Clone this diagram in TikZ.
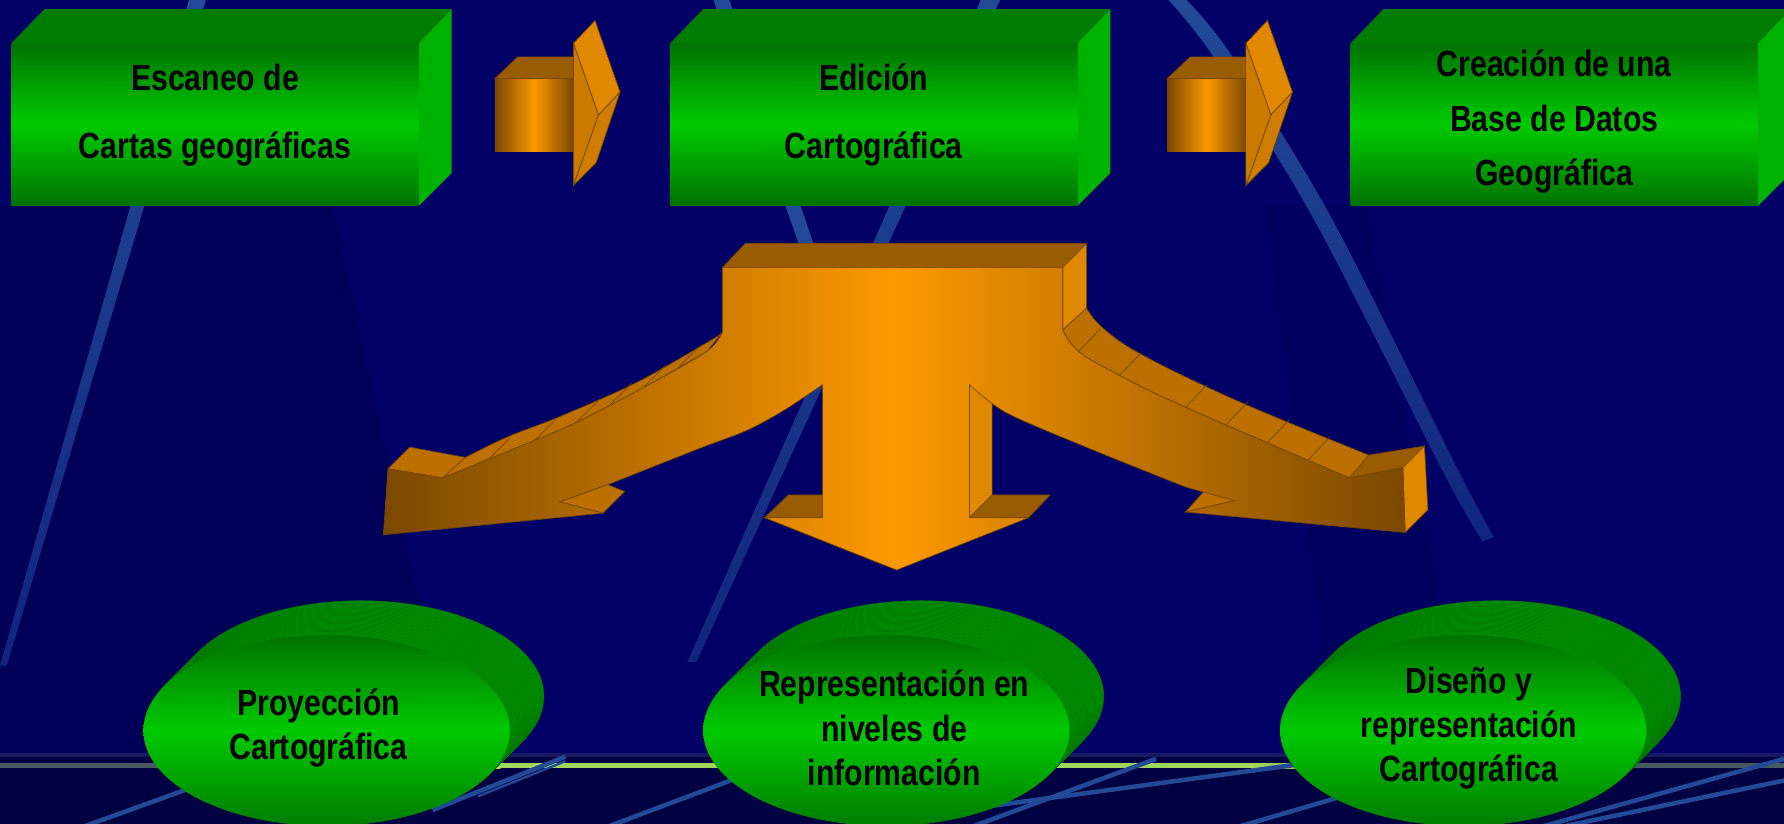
\documentclass[tikz,border=0pt]{standalone}
\usepackage{fontspec}
\newfontfamily\labelfont{Liberation Sans}[FakeStretch=0.83]

\definecolor{bgnavy}{RGB}{0,0,102}
\definecolor{bgband}{RGB}{0,0,66}
\definecolor{beamblue}{RGB}{34,74,150}
\definecolor{boxdark}{RGB}{0,114,0}
\definecolor{boxlight}{RGB}{0,202,0}
\definecolor{boxtop}{RGB}{0,124,0}
\definecolor{boxside}{RGB}{0,178,0}
\definecolor{arrdark}{RGB}{122,72,0}
\definecolor{arrbright}{RGB}{253,153,0}
\definecolor{arrtop}{RGB}{153,92,0}
\definecolor{arrside}{RGB}{224,136,0}
\definecolor{arrstrip}{RGB}{187,112,0}
\definecolor{arrline}{RGB}{120,70,0}
\definecolor{ovalwall}{RGB}{0,148,0}
\definecolor{ovalline}{RGB}{0,122,0}
\definecolor{hlgray}{RGB}{70,90,95}
\definecolor{hlgreen}{RGB}{160,215,90}

\begin{document}
\begin{tikzpicture}
[x=0.5pt, y=-0.5pt,
  boxfront/.style={top color=boxdark, bottom color=boxdark, middle color=boxlight},
  ovalfront/.style={top color=boxdark, bottom color=boxdark!90!boxlight, middle color=boxlight},
  ovalwallstyle/.style={fill=ovalwall, draw=ovalline, line width=0.25pt},
  facet/.style={draw=arrline, line width=0.3pt},
  arrfront/.style={left color=arrdark, right color=arrdark, middle color=arrbright},
  lightline/.style={beamblue, line width=2pt},
  lbl/.style={align=center, inner sep=0pt, text=black}]
\useasboundingbox (0,0) rectangle (1568,724);
\clip (0,0) rectangle (1568,724);

%% background
\fill[bgnavy] (0,0) rectangle (1568,724);
\fill[black, opacity=.12] (0,181) -- (292,181) -- (398,664) -- (0,664) -- cycle;
\fill[black, opacity=.08] (1112,181) -- (1200,181) -- (1290,664) -- (1175,664) -- cycle;
\fill[bgband] (0,664) rectangle (1568,724);
\fill[gray!40!bgnavy, opacity=.5] (0,662) rectangle (1568,665);
\fill[hlgray] (0,671) rectangle (140,675);
\shade[left color=hlgray, right color=hlgreen] (140,671) rectangle (440,675);
\fill[hlgreen] (440,671) rectangle (1100,675);
\shade[left color=hlgreen, right color=hlgray] (1100,671) rectangle (1300,675);
\fill[hlgray] (1300,671) rectangle (1568,675);

%% light beams
\shade[top color=beamblue, bottom color=beamblue!50!bgnavy] (166,0) -- (181,0) -- (6,585) -- (0,585) -- cycle;
\shade[top color=beamblue, bottom color=beamblue!50!bgnavy] (862,0) -- (879,0) -- (612,582) -- (604,582) -- cycle;
\fill[beamblue] (627,0) -- (641,0) -- (724,240) -- (711,240) -- cycle;
\shade[top color=beamblue, bottom color=beamblue!50!bgnavy]
  plot[smooth] coordinates {(1027,0) (1068,52) (1156,195) (1270,418) (1303,476)}
  -- plot[smooth] coordinates {(1313,472) (1282,414) (1170,191) (1082,48) (1043,0)} -- cycle;
\draw[lightline] (50,735) -- (230,670);
\draw[lightline] (380,712) -- (497,665);
\draw[lightline, line width=1pt] (420,700) -- (497,669);
\draw[lightline] (525,730) -- (690,668);
\draw[lightline] (845,730) -- (1016,667);
\draw[lightline] (800,718) -- (1140,672);
\draw[lightline] (1084,728) -- (1200,694);
\draw[lightline] (1350,728) -- (1568,667);
\draw[lightline] (1366,728) -- (1568,686);

%% boxes
\foreach \bx/\bname/\btext/\bskip/\by in {
  10/scan/{Escaneo de\\Cartas geográficas}/30/101,
  589/edit/{Edición\\Cartográfica}/30/101,
  1187/gisdb/{Creación de una\\Base de Datos\\Geográfica}/24/107}
{
  \fill[boxtop] (\bx,38) -- ++(29,-30) -- ++(358,0) -- ++(-29,30) -- cycle;
  \fill[boxside] (\bx+358,38) -- ++(29,-30) -- ++(0,144) -- ++(-29,29) -- cycle;
  \shade[boxfront] (\bx,38) rectangle ++(358,143);
  \node[lbl, font={\labelfont\bfseries\fontsize{16}{\bskip}\selectfont}] (\bname) at (\bx+179,\by) {\btext};
}

%% small arrows between the boxes
\foreach \ax in {0,591}
{
  \begin{scope}[shift={(\ax,0)}]
    \shade[arrfront] (435,69) rectangle (504,133);
    \filldraw[fill=arrtop, facet] (435,69) -- (455,50) -- (504,50) -- (504,69) -- cycle;
    \filldraw[fill=arrside, facet] (504,38) -- (523,18) -- (545,81) -- (526,101) -- cycle;
    \filldraw[fill=arrside!92!black, facet] (526,101) -- (545,81) -- (524,143) -- (504,163) -- cycle;
    \filldraw[fill=arrside!80!arrdark, facet] (504,38) -- (526,101) -- (504,163) -- cycle;
  \end{scope}
}

%% big three-way arrow: side faces
\filldraw[fill=arrtop, facet] (635,235) -- (655,214) -- (955,214) -- (934,235) -- cycle;
\filldraw[fill=arrside, facet] (934,235) -- (955,214) -- (955,271) -- (934,290) -- cycle;
\filldraw[fill=arrstrip, facet]
  plot[smooth, tension=.6] coordinates {(955,271) (969,288) (1004,312) (1089,353) (1203,400)}
  -- plot[smooth, tension=.6] coordinates {(1186,420) (1042,358) (984,330) (948,309) (934,290)} -- cycle;
\foreach \fx/\fy in {948/309, 984/330, 1042/358, 1078/373, 1114/389, 1150/404}
  \draw[facet] (\fx,\fy) -- ++(19,-20);
\filldraw[fill=arrtop, facet] (1186,420) -- (1203,400) -- (1252,392) -- (1233,411) -- cycle;
\filldraw[fill=arrside, facet] (1233,411) -- (1252,392) -- (1255,448) -- (1235,468) -- cycle;
\filldraw[fill=arrstrip, facet] (1058,432) -- (1042,450) -- (1085,440) -- cycle;
\filldraw[fill=arrside, facet] (852,338) -- (872,353) -- (872,435) -- (852,455) -- cycle;
\filldraw[fill=arrtop, facet] (672,455) -- (693,435) -- (723,435) -- (723,455) -- cycle;
\filldraw[fill=arrtop, facet] (852,455) -- (872,435) -- (923,435) -- (904,455) -- cycle;
\filldraw[fill=arrstrip, facet]
  plot[smooth] coordinates {(409,402) (446,384) (490,367) (560,336) (630,296)} -- (635,292)
  -- plot[smooth] coordinates {(621,309) (565,341) (507,371) (470,387) (389,420)} -- cycle;
\foreach \fx/\fy in {429/404, 470/387, 507/371, 536/356, 565/341, 594/325}
  \draw[facet] (\fx,\fy) -- ++(19,-19);
\filldraw[fill=arrstrip, facet] (341,412) -- (360,393) -- (409,402) -- (389,420) -- cycle;
\filldraw[fill=arrstrip, facet] (492,441) -- (534,426) -- (549,432) -- (530,451) -- cycle;
%% big three-way arrow: front face
\shadedraw[arrfront, facet] (635,235) -- (934,235)
  -- plot[smooth, tension=.6] coordinates {(934,290) (948,309) (984,330) (1042,358) (1186,420)}
  -- (1233,411) -- (1235,468) -- (1042,450) -- (1085,440)
  -- plot[smooth] coordinates {(1042,428) (962,396) (885,363) (852,338)}
  -- (852,455) -- (904,455) -- (788,501) -- (672,455) -- (723,455)
  -- plot[smooth] coordinates {(723,338) (690,360) (657,378) (615,394) (534,426)}
  -- (492,441) -- (530,451) -- (337,470) -- (341,412) -- (389,420)
  -- plot[smooth] coordinates {(470,387) (507,371) (565,341) (621,309) (635,292)} -- cycle;

%% ovals
\foreach \ex/\ename/\etext/\tx in {
  287/proj/{Proyección\\Cartográfica}/280,
  779/levels/{Representación en\\niveles de\\información}/786,
  1286/design/{Diseño y\\representación\\Cartográfica}/1291}
{
  \foreach \k in {30,29,...,1}
    \filldraw[ovalwallstyle] (\ex+\k,642-\k) ellipse [x radius=80.5pt, y radius=42pt];
  \shade[ovalfront] (\ex,642) ellipse [x radius=80.5pt, y radius=42pt];
  \node[lbl, font={\labelfont\bfseries\fontsize{16}{19.5}\selectfont}] (\ename) at (\tx,640) {\etext};
}
\end{tikzpicture}
\end{document}
